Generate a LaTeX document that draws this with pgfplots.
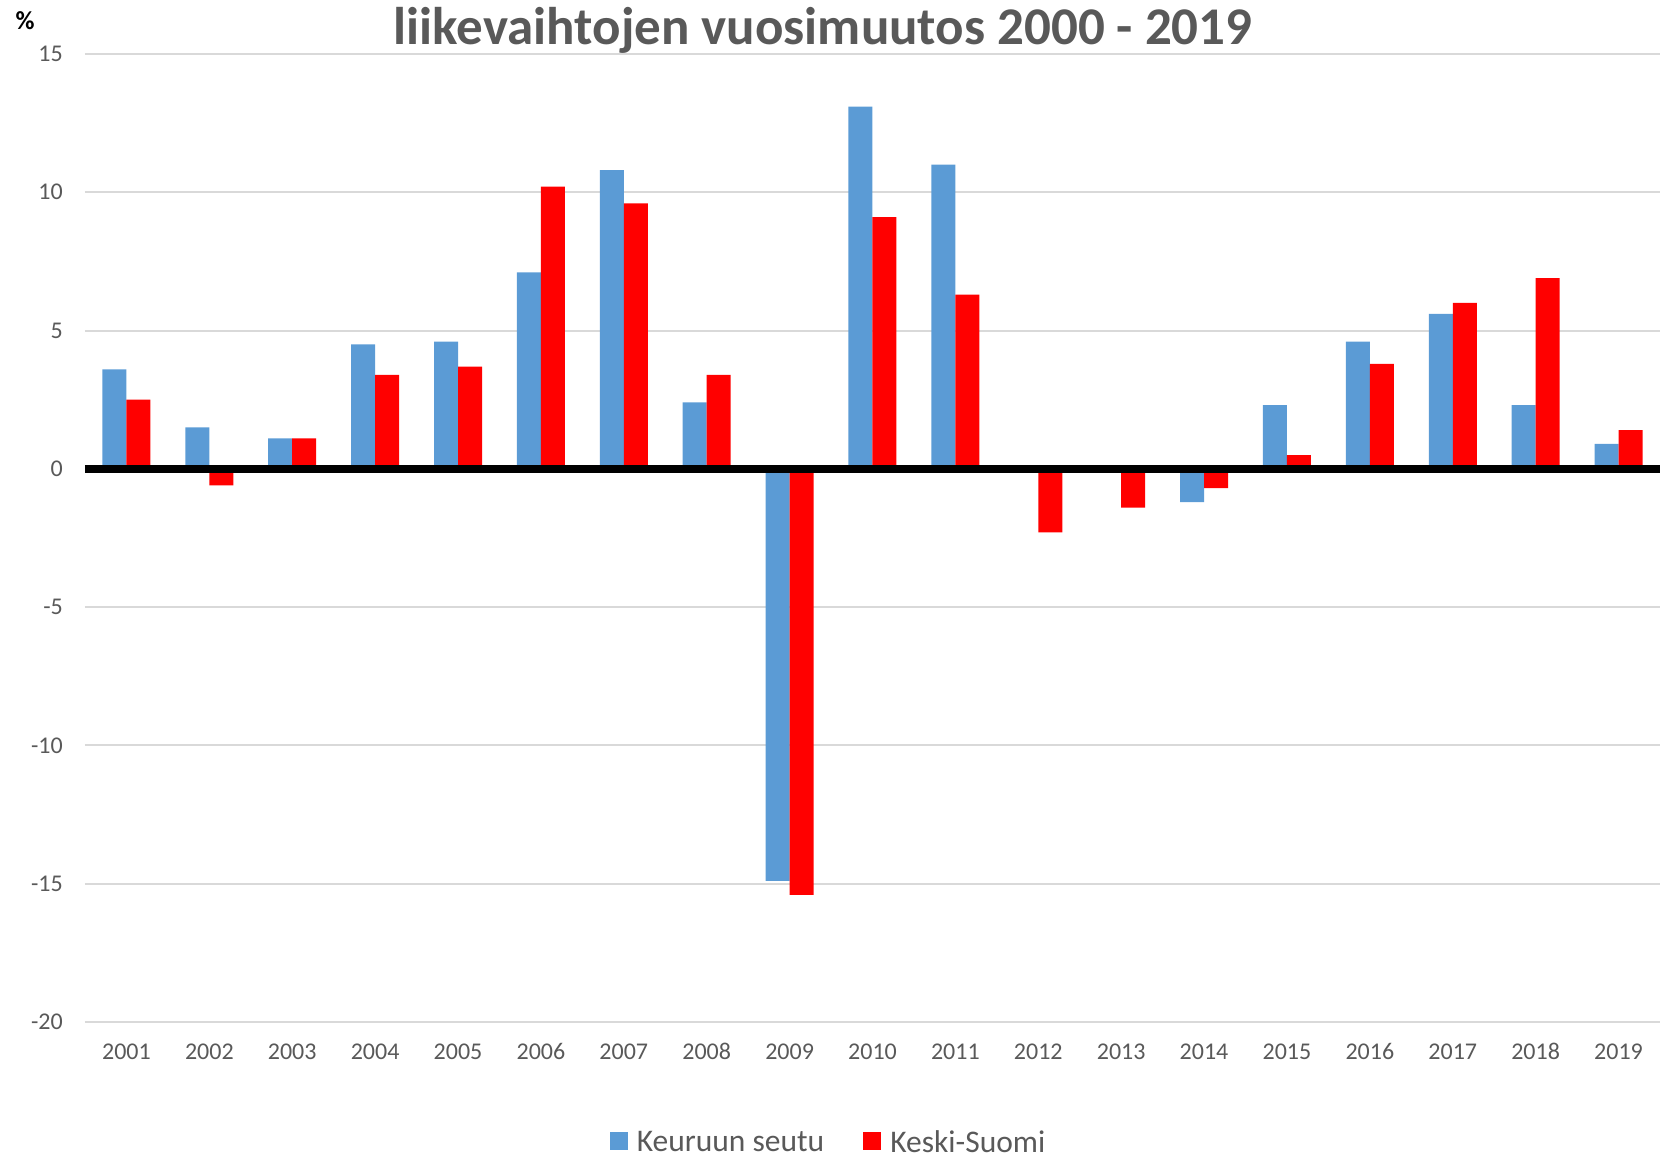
\documentclass[border=0pt]{standalone}
\usepackage{fontspec}
\setmainfont{Carlito}
\usepackage{pgfplots}
\pgfplotsset{compat=1.18}
\definecolor{kblue}{HTML}{5B9BD5}
\definecolor{kred}{HTML}{FF0000}
\definecolor{tgray}{HTML}{595959}
\definecolor{ggray}{HTML}{D9D9D9}
\begin{document}
\begin{tikzpicture}[x=1pt,y=1pt]
\path[use as bounding box] (0,0) rectangle (1660,1159);
\begin{axis}[
  at={(85pt,137pt)}, anchor=south west,
  scale only axis, width=1575pt, height=968pt,
  xmin=0.5, xmax=19.5, ymin=-20, ymax=15,
  ytick={-20,-15,-10,-5,0,5,10,15},
  xtick={1,2,3,4,5,6,7,8,9,10,11,12,13,14,15,16,17,18,19},
  xticklabels={2001,2002,2003,2004,2005,2006,2007,2008,2009,2010,2011,2012,2013,2014,2015,2016,2017,2018,2019},
  ybar=0pt, bar width=24pt,
  axis line style={draw=none},
  major tick length=0pt,
  ymajorgrids, grid style={ggray, line width=2pt},
  tick label style={font=\fontsize{24}{28}\selectfont, text=tgray},
  /pgf/number format/assume math mode=true,
  xticklabel style={anchor=base, inner sep=0pt, yshift=-37.6pt},
  yticklabel style={anchor=east, inner sep=0pt, xshift=-22pt},
  legend columns=2,
  legend style={at={(0.4715,-0.1364)}, anchor=south, draw=none, fill=none,
    font=\fontsize{31.5}{36}\selectfont, text=tgray, inner sep=0pt,
    nodes={inner sep=0pt},
    /tikz/every odd column/.append style={column sep=9pt},
    /tikz/every even column/.append style={column sep=39pt}},
  legend image code/.code={\fill[#1] (0pt,-7.4pt) rectangle (18pt,10.6pt);},
]
\addplot[fill=kblue, draw=none] coordinates {
(1,3.6) (2,1.5) (3,1.1) (4,4.5) (5,4.6) (6,7.1) (7,10.8) (8,2.4) (9,-14.9) (10,13.1)
(11,11.0) (12,0) (13,0) (14,-1.2) (15,2.3) (16,4.6) (17,5.6) (18,2.3) (19,0.9)};
\addlegendentry{Keuruun seutu}
\addplot[fill=kred, draw=none] coordinates {
(1,2.5) (2,-0.6) (3,1.1) (4,3.4) (5,3.7) (6,10.2) (7,9.6) (8,3.4) (9,-15.4) (10,9.1)
(11,6.3) (12,-2.3) (13,-1.4) (14,-0.7) (15,0.5) (16,3.8) (17,6.0) (18,6.9) (19,1.4)};
\addlegendentry{Keski-Suomi}
\draw[black, line width=8.4pt] (axis cs:0.5,0) -- (axis cs:19.5,0);
\end{axis}
\node[anchor=base, text=tgray, font=\fontsize{53}{60}\selectfont\bfseries] at (823,1114.5) {liikevaihtojen vuosimuutos 2000 - 2019};
\node[anchor=base, text=black, font=\fontsize{26}{30}\selectfont\bfseries] at (25,1129) {\%};
\end{tikzpicture}
\end{document}
